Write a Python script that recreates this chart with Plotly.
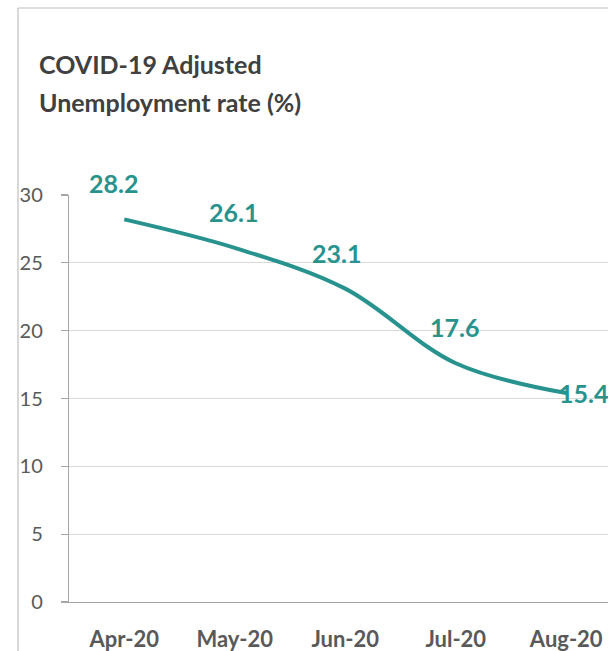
import plotly.graph_objects as go

months = ["Apr-20", "May-20", "Jun-20", "Jul-20", "Aug-20"]
rates = [28.2, 26.1, 23.1, 17.6, 15.4]
label_pos = ["above", "above", "above", "above", "right"]
label_dx = [-11, -1, -9, -1, -9]
y_ticks = [0, 5, 10, 15, 20, 25, 30]
title_lines = ["COVID-19 Adjusted", "Unemployment rate (%)"]

TEAL = "#28938E"
GREY_TXT = "#595959"
FONT = "Lato"

W, H = 608, 651
L, T = 69, 195
BOTTOM = 602
R, B = 0, H - BOTTOM
pw, ph = W - L - R, H - T - B


def px2x(px):
    return (px - L) / pw


def py2y(py):
    return (BOTTOM - py) / ph


fig = go.Figure()
fig.add_trace(go.Scatter(
    x=months, y=rates, mode="lines",
    line=dict(color=TEAL, width=4, shape="spline", smoothing=1.0),
    hoverinfo="skip", showlegend=False, cliponaxis=True,
))

annotations = []
for m, v, p, dx in zip(months, rates, label_pos, label_dx):
    if p == "above":
        annotations.append(dict(x=m, y=v, xref="x", yref="y", text=f"<b>{v}</b>",
                                showarrow=False, xanchor="center", yanchor="middle",
                                yshift=36, xshift=dx,
                                font=dict(family=FONT, size=25, color=TEAL)))
    else:
        annotations.append(dict(x=m, y=v, xref="x", yref="y", text=f"<b>{v}</b>",
                                showarrow=False, xanchor="left", yanchor="middle",
                                xshift=dx, yshift=0,
                                font=dict(family=FONT, size=25, color=TEAL)))

for i, line in enumerate(title_lines):
    annotations.append(dict(x=px2x(37), y=py2y(64 + 38 * i), xref="paper", yref="paper",
                            text=f"<b>{line}</b>", showarrow=False,
                            xanchor="left", yanchor="middle",
                            font=dict(family=FONT, size=25, color="#404040")))

# outer frame (left and top edges only; the rest is cut off)
shapes = [
    dict(type="line", xref="paper", yref="paper", x0=px2x(18), x1=px2x(18),
         y0=py2y(8), y1=py2y(H), line=dict(color="#BFBFBF", width=1.2)),
    dict(type="line", xref="paper", yref="paper", x0=px2x(18), x1=px2x(W),
         y0=py2y(8), y1=py2y(8), line=dict(color="#BFBFBF", width=1.2)),
]

cat_px = 110.5
fig.update_layout(
    width=W, height=H,
    margin=dict(l=L, r=R, t=T, b=B, pad=0),
    paper_bgcolor="white", plot_bgcolor="white",
    annotations=annotations, shapes=shapes,
    xaxis=dict(
        type="category", range=[-0.5, -0.5 + pw / cat_px],
        showgrid=False, showline=True, linecolor="#A6A6A6", linewidth=1.2,
        zeroline=False, mirror=False, showspikes=False,
        ticks="", tickfont=dict(family=FONT, size=22, color=GREY_TXT),
        tickprefix="<b>", ticksuffix="</b>", ticklabelstandoff=17,
    ),
    yaxis=dict(
        range=[0, 30], tickvals=y_ticks,
        showgrid=True, gridcolor="#D9D9D9", gridwidth=1.2,
        showline=True, linecolor="#A6A6A6", linewidth=1.2, mirror=False,
        ticks="outside", ticklen=7, tickcolor="#A6A6A6", tickwidth=1.2,
        tickfont=dict(family=FONT, size=20, color=GREY_TXT),
        ticklabelstandoff=14, zeroline=False,
    ),
)

fig.write_html(
    "out.html",
    config={"displayModeBar": False, "staticPlot": True},
    post_script=(
        "document.documentElement.style.overflow='hidden';"
        "document.body.style.margin='0';"
        "document.body.style.overflow='hidden';"
    ),
)
